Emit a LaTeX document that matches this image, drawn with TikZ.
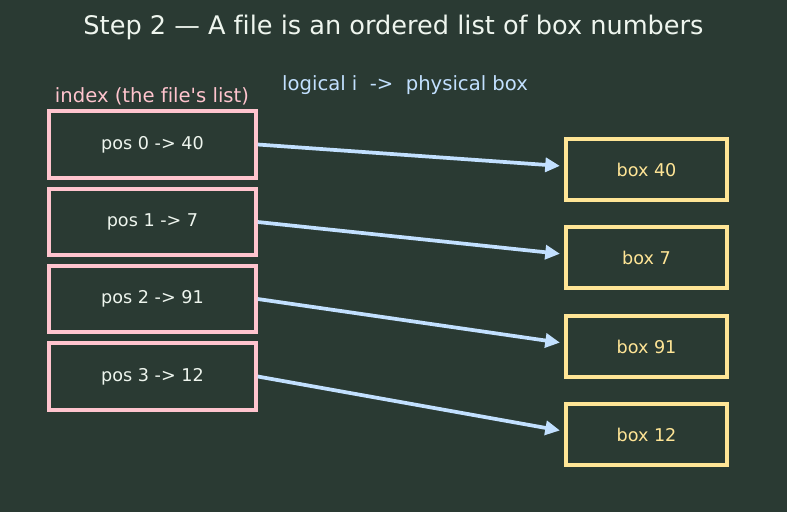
\documentclass[tikz,border=0pt]{standalone}
\usepackage{fontspec}
\setmainfont{DejaVu Sans}[Ligatures=NoCommon]
\usetikzlibrary{arrows.meta}
\definecolor{bg}{HTML}{2A3A33}
\definecolor{titlec}{HTML}{EEF5EE}
\definecolor{pinkc}{HTML}{FFC4CE}
\definecolor{yellowc}{HTML}{FFE596}
\definecolor{bluec}{HTML}{C2E0FF}
\tikzset{
  idxbox/.style={draw=pinkc, line width=2.9pt, fill=bg, minimum width=155pt, minimum height=50pt, inner sep=0pt, text=titlec, font=\fontsize{13.2}{15}\selectfont},
  physbox/.style={draw=yellowc, line width=2.9pt, fill=bg, minimum width=121pt, minimum height=46pt, inner sep=0pt, text=yellowc, font=\fontsize{13.2}{15}\selectfont},
  maparrow/.style={draw=bluec, line width=2.8pt, -{Triangle[length=11pt,width=10.5pt]}, shorten >=3pt},
}
\begin{document}
\begin{tikzpicture}[x=0.75pt,y=-0.75pt]
\fill[bg] (0,0) rectangle (787,512);
\useasboundingbox (0,0) rectangle (787,512);
\node[text=titlec, font=\fontsize{19.2}{22}\selectfont] (title) at (393.5,27) {Step 2 — A file is an ordered list of box numbers};
\node[text=bluec, font=\fontsize{14.7}{17}\selectfont] (hdr) at (405,85) {logical i \ -> \ physical box};
\node[text=pinkc, font=\fontsize{14.7}{17}\selectfont] (idxlbl) at (152,96) {index (the file\textquotesingle s list)};
\node[idxbox] (p0) at (152.5,144.5) {pos 0 -> 40};
\node[idxbox] (p1) at (152.5,222) {pos 1 -> 7};
\node[idxbox] (p2) at (152.5,299) {pos 2 -> 91};
\node[idxbox] (p3) at (152.5,376.5) {pos 3 -> 12};
\node[physbox] (b0) at (646.5,169.5) {box 40};
\node[physbox] (b1) at (646.5,257.5) {box 7};
\node[physbox] (b2) at (646.5,346.5) {box 91};
\node[physbox] (b3) at (646.5,434.5) {box 12};
\draw[maparrow] (p0.east) -- ([yshift=2.5pt]b0.west);
\draw[maparrow] (p1.east) -- ([yshift=2.5pt]b1.west);
\draw[maparrow] (p2.east) -- ([yshift=2.5pt]b2.west);
\draw[maparrow] (p3.east) -- ([yshift=2.5pt]b3.west);
\end{tikzpicture}
\end{document}
